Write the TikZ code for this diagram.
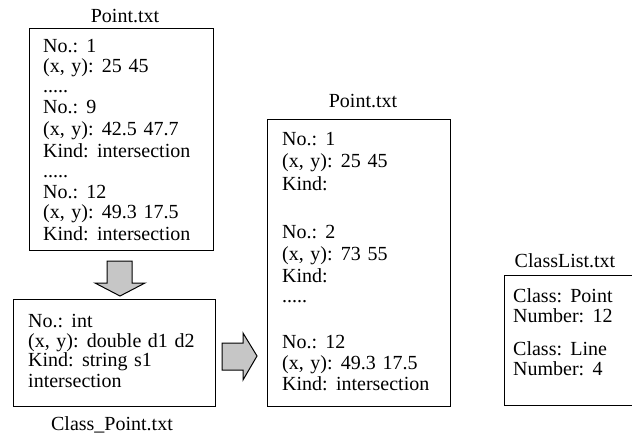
\documentclass[tikz,border=0pt]{standalone}
\usepackage{fontspec}
\setmainfont{Liberation Serif}
\newfontfamily\filefont{Liberation Serif}
\newcommand\filetextfont{\filefont\fontsize{20}{21}\selectfont\spaceskip=0.33em plus 0.1em minus 0.05em\relax}
\begin{document}
\begin{tikzpicture}[x=1pt,y=-1pt,
  filebox/.style={draw,line width=1.1pt,inner sep=0pt,anchor=north west},
  txtline/.style={anchor=base west,inner sep=0pt,font=\filetextfont},
  filetitle/.style={anchor=base,inner sep=0pt,font=\filetextfont},
  blockarrow/.style={draw,line width=1pt,fill=gray!45,line join=miter}]
\clip (0,0) rectangle (632,437);

% ---- input file Point.txt ----
\node[filetitle] (inTitle) at (125,22) {Point.txt};
\node[filebox,minimum width=184pt,minimum height=222pt] (inBox) at (29,28) {};
\node[txtline] (in1)  at (43,52)  {No.: 1};
\node[txtline] (in2)  at (43,72)  {(x, y): 25 45};
\node[txtline] (in3)  at (43,92)  {.....};
\node[txtline] (in4)  at (43,113) {No.: 9};
\node[txtline] (in5)  at (43,135) {(x, y): 42.5 47.7};
\node[txtline] (in6)  at (43,157) {Kind: intersection};
\node[txtline] (in7)  at (43,177) {.....};
\node[txtline] (in8)  at (43,198) {No.: 12};
\node[txtline] (in9)  at (43,218) {(x, y): 49.3 17.5};
\node[txtline] (in10) at (43,240) {Kind: intersection};

% ---- down arrow ----
\draw[blockarrow] (107,261) -- (132,261) -- (132,283) -- (145,283) -- (120,296)
  -- (95,283) -- (107,283) -- cycle;

% ---- class description Class_Point.txt ----
\node[filebox,minimum width=202pt,minimum height=107pt] (clsBox) at (13,299) {};
\node[txtline] (cl1) at (28,327) {No.: int};
\node[txtline] (cl2) at (28,347) {(x, y): double d1 d2};
\node[txtline] (cl3) at (28,366) {Kind: string s1};
\node[txtline] (cl4) at (28,387) {intersection};
\node[filetitle] (clsTitle) at (112,430) {Class\_Point.txt};

% ---- right arrow ----
\draw[blockarrow] (222,343) -- (243,343) -- (243,333) -- (257,356) -- (243,380)
  -- (243,370) -- (222,370) -- cycle;

% ---- output file Point.txt ----
\node[filetitle] (outTitle) at (363,107) {Point.txt};
\node[filebox,minimum width=183pt,minimum height=287pt] (outBox) at (267,119) {};
\node[txtline] (out1)  at (282,145) {No.: 1};
\node[txtline] (out2)  at (282,167) {(x, y): 25 45};
\node[txtline] (out3)  at (282,190) {Kind:};
\node[txtline] (out4)  at (282,238) {No.: 2};
\node[txtline] (out5)  at (282,260) {(x, y): 73 55};
\node[txtline] (out6)  at (282,282) {Kind:};
\node[txtline] (out7)  at (282,302) {.....};
\node[txtline] (out8)  at (282,348) {No.: 12};
\node[txtline] (out9)  at (282,369) {(x, y): 49.3 17.5};
\node[txtline] (out10) at (282,390) {Kind: intersection};

% ---- ClassList.txt ----
\node[filetitle] (listTitle) at (565,267) {ClassList.txt};
\node[filebox,minimum width=140pt,minimum height=130pt] (listBox) at (504,275) {};
\node[txtline] (ls1) at (513,302) {Class: Point};
\node[txtline] (ls2) at (513,322) {Number: 12};
\node[txtline] (ls3) at (513,355) {Class: Line};
\node[txtline] (ls4) at (513,375) {Number: 4};
\end{tikzpicture}
\end{document}
